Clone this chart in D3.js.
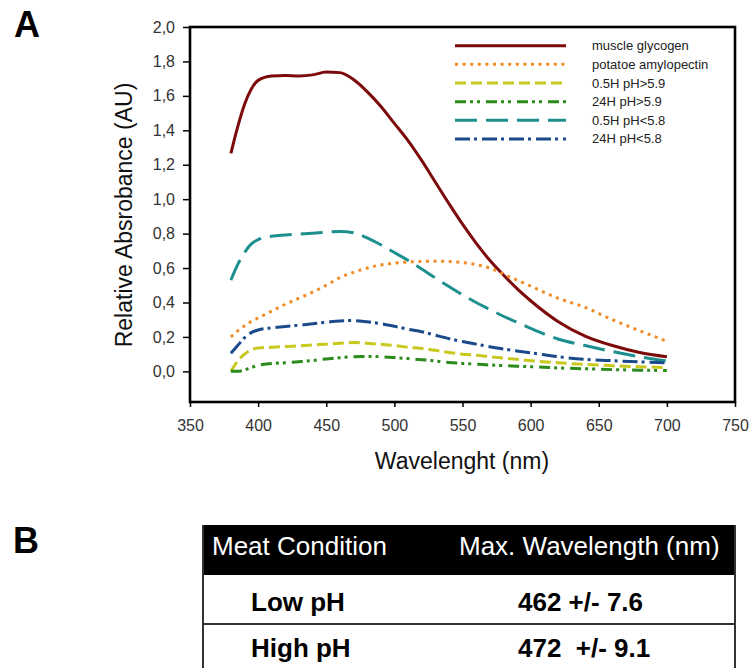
<!DOCTYPE html>
<html>
<head>
<meta charset="utf-8">
<script src="https://cdn.jsdelivr.net/npm/d3@7/dist/d3.min.js"></script>
<style>
  html, body { margin: 0; padding: 0; background: #fff; }
  svg { display: block; font-family: "Liberation Sans", Arial, sans-serif; }
</style>
</head>
<body>
<svg id="chart" width="750" height="668"></svg>
<script>
// ---------------- DATA ----------------
const wavelengths = [380,385,390,395,400,410,420,430,440,450,460,470,480,490,500,510,520,530,540,550,560,570,580,590,600,620,640,660,680,700];

const muscleGlycogen = [1.266,1.42,1.55,1.64,1.69,1.715,1.718,1.716,1.722,1.738,1.735,1.695,1.625,1.54,1.44,1.34,1.225,1.10,0.975,0.855,0.745,0.645,0.56,0.48,0.41,0.29,0.205,0.15,0.11,0.085];
const potatoeAmylopectin = [0.20,0.235,0.265,0.29,0.31,0.35,0.39,0.425,0.46,0.50,0.545,0.575,0.60,0.618,0.628,0.635,0.638,0.64,0.638,0.632,0.62,0.60,0.565,0.53,0.495,0.425,0.372,0.30,0.236,0.175];
const h05High = [0.0,0.06,0.10,0.125,0.135,0.14,0.145,0.148,0.153,0.158,0.163,0.167,0.163,0.157,0.15,0.14,0.133,0.122,0.11,0.10,0.093,0.085,0.077,0.07,0.062,0.05,0.04,0.033,0.027,0.022];
const h24High = [0.0,0.0,0.008,0.022,0.035,0.045,0.05,0.056,0.063,0.072,0.079,0.085,0.087,0.085,0.08,0.074,0.068,0.06,0.052,0.046,0.042,0.037,0.033,0.03,0.027,0.02,0.015,0.01,0.007,0.005];
const h05Low = [0.53,0.62,0.69,0.74,0.765,0.785,0.792,0.797,0.802,0.808,0.812,0.805,0.775,0.735,0.69,0.645,0.595,0.543,0.493,0.445,0.40,0.36,0.32,0.285,0.25,0.188,0.15,0.115,0.085,0.06];
const h24Low = [0.105,0.15,0.195,0.225,0.24,0.253,0.26,0.268,0.276,0.285,0.293,0.295,0.288,0.277,0.262,0.245,0.23,0.21,0.19,0.173,0.158,0.143,0.13,0.118,0.108,0.085,0.07,0.062,0.055,0.05];

const seriesNames = ["muscle glycogen","potatoe amylopectin","0.5H pH>5.9","24H pH>5.9","0.5H pH<5.8","24H pH<5.8"];
const seriesValues = [muscleGlycogen, potatoeAmylopectin, h05High, h24High, h05Low, h24Low];

const xTicks = [350,400,450,500,550,600,650,700,750];
const yTicks = [0,0.2,0.4,0.6,0.8,1.0,1.2,1.4,1.6,1.8,2.0];

const tableHeader = ["Meat Condition","Max. Wavelength (nm)"];
const tableConditions = ["Low pH","High pH"];
const tableValues = ["462 +/- 7.6","472  +/- 9.1"];

// ---------------- STYLES ----------------
const colors = ["#7d0a0a","#f08c28","#c8c81e","#2a8a1a","#1e8f8f","#1a4a8a"];
const dashes = [null,"3,4.6","11,5","11,4,3,4,3,6","22,9","15,4,3,5"];

// ---------------- CHART ----------------
const svg = d3.select("#chart");
const L = 190, R = 735, T = 27, B = 402;

const x = d3.scaleLinear().domain([350,750]).range([L,R]);
const y = d3.scaleLinear().domain([-0.178,2.0]).range([B,T]);

// panel letters
svg.append("text").attr("x",14).attr("y",37).attr("font-size",36).attr("font-weight","bold").text("A");
svg.append("text").attr("x",13).attr("y",553).attr("font-size",36).attr("font-weight","bold").text("B");

// y axis
const yAxis = svg.append("g").attr("transform",`translate(${L},0)`)
  .call(d3.axisLeft(y).tickValues(yTicks).tickSize(7).tickPadding(8)
    .tickFormat(d => d3.format(".1f")(d).replace(".",",")));
yAxis.select(".domain").remove();
yAxis.selectAll("line").attr("stroke","#000").attr("stroke-width",1.5);
yAxis.selectAll("text").attr("font-size",16).attr("fill","#333").attr("font-family","Liberation Sans, Arial, sans-serif");

// x axis
const xAxis = svg.append("g").attr("transform",`translate(0,${B})`)
  .call(d3.axisBottom(x).tickValues(xTicks).tickSize(5).tickPadding(13));
xAxis.select(".domain").remove();
xAxis.selectAll("line").attr("stroke","#000").attr("stroke-width",1.5);
xAxis.selectAll("text").attr("font-size",16).attr("fill","#333").attr("font-family","Liberation Sans, Arial, sans-serif");

// frame
svg.append("rect").attr("x",L).attr("y",T).attr("width",R-L).attr("height",B-T)
  .attr("fill","none").attr("stroke","#000").attr("stroke-width",2.6);

// axis titles
svg.append("text").attr("x",462).attr("y",469).attr("text-anchor","middle")
  .attr("font-size",23).attr("fill","#111").text("Wavelenght (nm)");
svg.append("text").attr("transform","translate(132,215) rotate(-90)").attr("text-anchor","middle")
  .attr("font-size",23).attr("fill","#111").text("Relative Absrobance (AU)");

// lines
const line = d3.line().x((d,i) => x(wavelengths[i])).y(d => y(d)).curve(d3.curveMonotoneX);
seriesValues.forEach((vals,k) => {
  svg.append("path").datum(vals).attr("d",line)
    .attr("fill","none").attr("stroke",colors[k]).attr("stroke-width",3)
    .attr("stroke-dasharray",dashes[k]);
});

// legend
const lg = svg.append("g");
seriesNames.forEach((name,k) => {
  const yy = 45.7 + k*18.65;
  lg.append("line").attr("x1",455).attr("x2",566).attr("y1",yy).attr("y2",yy)
    .attr("stroke",colors[k]).attr("stroke-width",3).attr("stroke-dasharray",dashes[k]);
  lg.append("text").attr("x",592).attr("y",yy+4.5).attr("font-size",13).attr("fill","#222").text(name);
});

// ---------------- TABLE ----------------
const tL = 203, tR = 735, hTop = 525, hBot = 575, rowMid = 624;
svg.append("rect").attr("x",tL).attr("y",hTop).attr("width",tR-tL).attr("height",hBot-hTop).attr("fill","#000");
svg.append("text").attr("x",212).attr("y",555).attr("font-size",26).attr("fill","#fff").text(tableHeader[0]);
svg.append("text").attr("x",459).attr("y",555).attr("font-size",26).attr("fill","#fff").text(tableHeader[1]);
// borders
svg.append("line").attr("x1",tL).attr("x2",tL).attr("y1",hTop).attr("y2",668).attr("stroke","#333").attr("stroke-width",2);
svg.append("line").attr("x1",tR).attr("x2",tR).attr("y1",hTop).attr("y2",668).attr("stroke","#333").attr("stroke-width",2);
svg.append("line").attr("x1",tL).attr("x2",tR).attr("y1",rowMid).attr("y2",rowMid).attr("stroke","#333").attr("stroke-width",2);
tableConditions.forEach((c,i) => {
  const by = i === 0 ? 611 : 657;
  svg.append("text").attr("x",251).attr("y",by).attr("font-size",26).attr("font-weight","bold").attr("fill","#000").text(c);
  svg.append("text").attr("x",518).attr("y",by).attr("font-size",26).attr("font-weight","bold").attr("fill","#000")
    .attr("xml:space","preserve").style("white-space","pre").text(tableValues[i]);
});
</script>
</body>
</html>
